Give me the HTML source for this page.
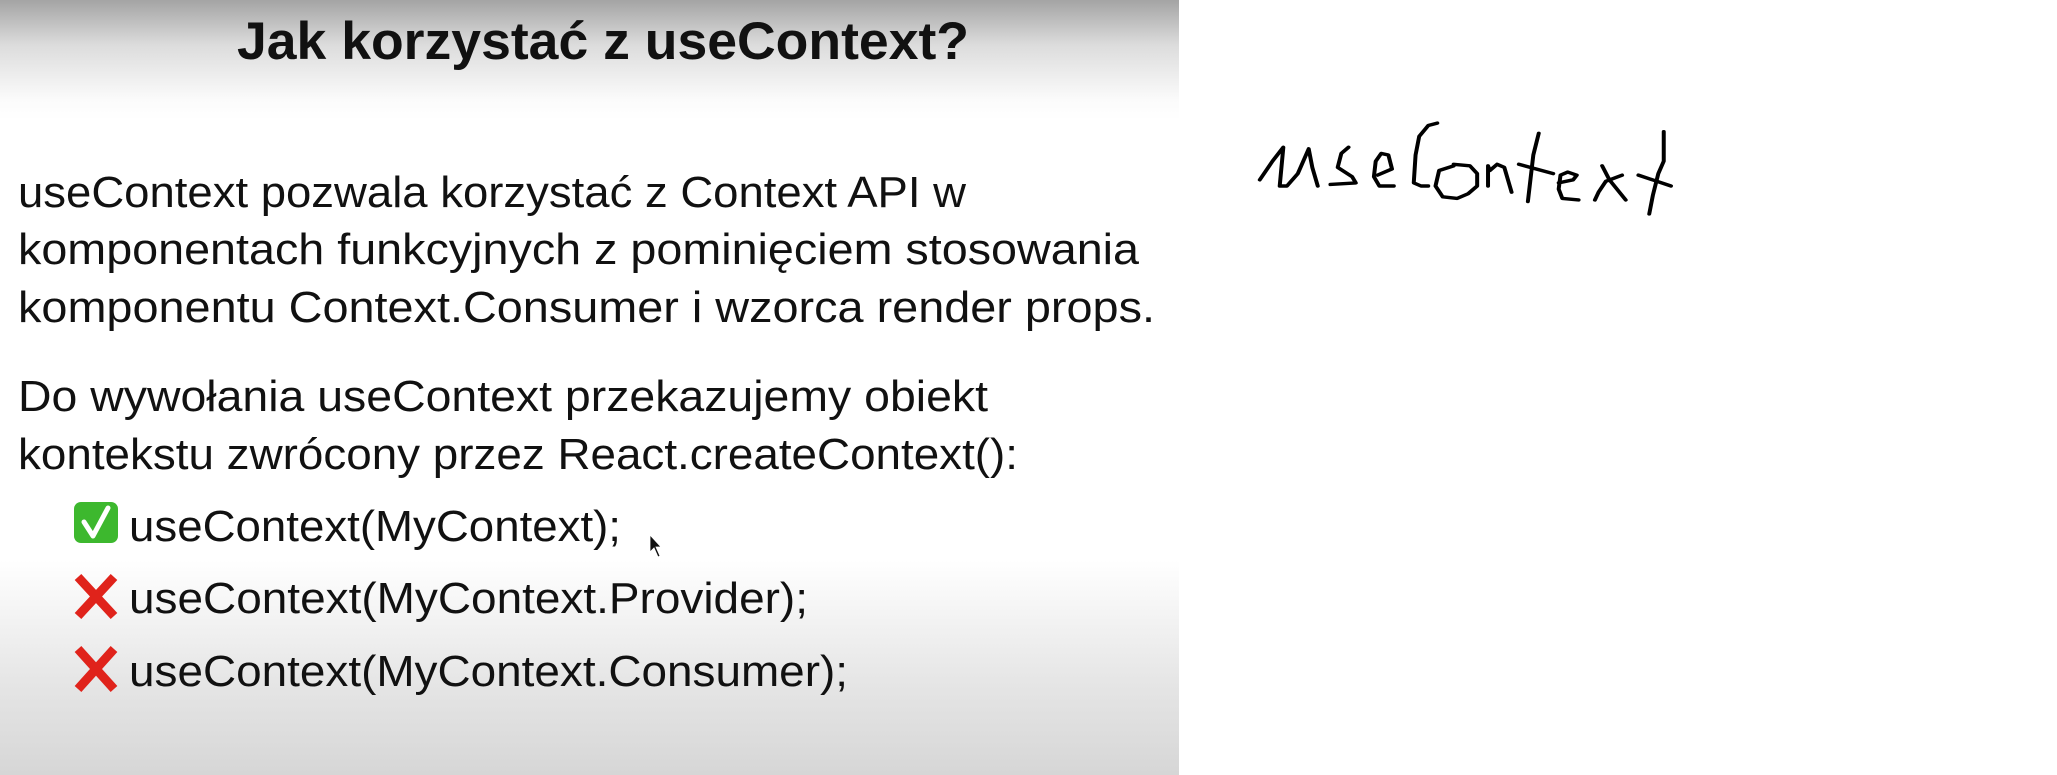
<!DOCTYPE html>
<html><head><meta charset="utf-8"><style>
html,body{margin:0;padding:0;background:#fff;}
body{width:2057px;height:775px;position:relative;overflow:hidden;}
#slide{position:absolute;left:0;top:0;width:1179px;height:775px;
background:linear-gradient(to bottom,#a4a4a4 0px,#dcdcdc 45px,#fbfbfb 100px,#fff 120px,#fff 560px,#e6e6e6 680px,#d6d6d6 775px);}
svg{position:absolute;left:0;top:0;}
text{font-family:"Liberation Sans",sans-serif;fill:#111;}
</style></head><body>
<div id="slide"></div>
<svg width="2057" height="775" viewBox="0 0 2057 775">
<text x="237" y="59" font-size="53" font-weight="bold" textLength="732" lengthAdjust="spacingAndGlyphs" fill="#1a1a1a">Jak korzystać z useContext?</text>
<g font-size="44">
<text x="18" y="207" textLength="948" lengthAdjust="spacingAndGlyphs">useContext pozwala korzystać z Context API w</text>
<text x="18" y="264" textLength="1121" lengthAdjust="spacingAndGlyphs">komponentach funkcyjnych z pominięciem stosowania</text>
<text x="18" y="322" textLength="1137" lengthAdjust="spacingAndGlyphs">komponentu Context.Consumer i wzorca render props.</text>
<text x="18" y="411" textLength="970" lengthAdjust="spacingAndGlyphs">Do wywołania useContext przekazujemy obiekt</text>
<text x="18" y="469" textLength="1000" lengthAdjust="spacingAndGlyphs">kontekstu zwrócony przez React.createContext():</text>
<text x="129" y="541" textLength="492" lengthAdjust="spacingAndGlyphs">useContext(MyContext);</text>
<text x="129" y="613" textLength="679" lengthAdjust="spacingAndGlyphs">useContext(MyContext.Provider);</text>
<text x="129" y="686" textLength="719" lengthAdjust="spacingAndGlyphs">useContext(MyContext.Consumer);</text>
</g>
<rect x="74" y="502" width="44" height="41" rx="7" fill="#3db82e"/>
<path d="M84,522 L93,536 L108,508" stroke="#fff" stroke-width="5" fill="none" stroke-linecap="round" stroke-linejoin="round"/>
<g stroke="#e0231b" stroke-width="9" stroke-linecap="butt">
<path d="M78,577 L114,616 M114,577 L78,616"/>
<path d="M78,649 L114,689 M114,649 L78,689"/>
</g>
<path d="M650,535 L650,552 L654,548 L658,557 L660,556 L656,547 L661,547 Z" fill="#111" stroke="#fff" stroke-width="0.8"/>
<g transform="translate(1200,93) scale(0.3623,0.31)" fill="none" stroke="#000" stroke-width="11" stroke-linecap="round" stroke-linejoin="round">
<path d="M165,280 L200,220 L230,175 L220,300 L240,300 L270,260 L300,180 L310,240 L325,300"/>
<path d="M410,175 L390,195 L380,240 L420,270 L430,290 L360,295"/>
<path d="M490,265 L530,245 L520,200 L500,195 L485,220 L480,270 L495,300 L535,300"/>
<path d="M655,97 L630,105 L605,140 L595,200 L590,290 L610,300 L630,300"/>
<path d="M700,235 L660,250 L650,300 L670,335 L710,340 L740,325 L765,300 L765,260 L745,235 L700,230"/>
<path d="M795,300 L795,235 L800,250 L820,230 L840,240 L855,300 L860,320"/>
<path d="M935,130 L920,200 L910,300 L905,350 M880,230 L975,260"/>
<path d="M990,290 L1030,280 L1040,265 L1015,255 L995,265 L990,310 L1000,340 L1045,345"/>
<path d="M1110,235 L1130,280 L1175,345 M1165,265 L1120,285 L1100,320 L1090,345"/>
<path d="M1280,125 L1280,220 L1265,260 L1250,330 L1240,390 M1210,265 L1300,300"/>
</g>
</svg>
</body></html>
